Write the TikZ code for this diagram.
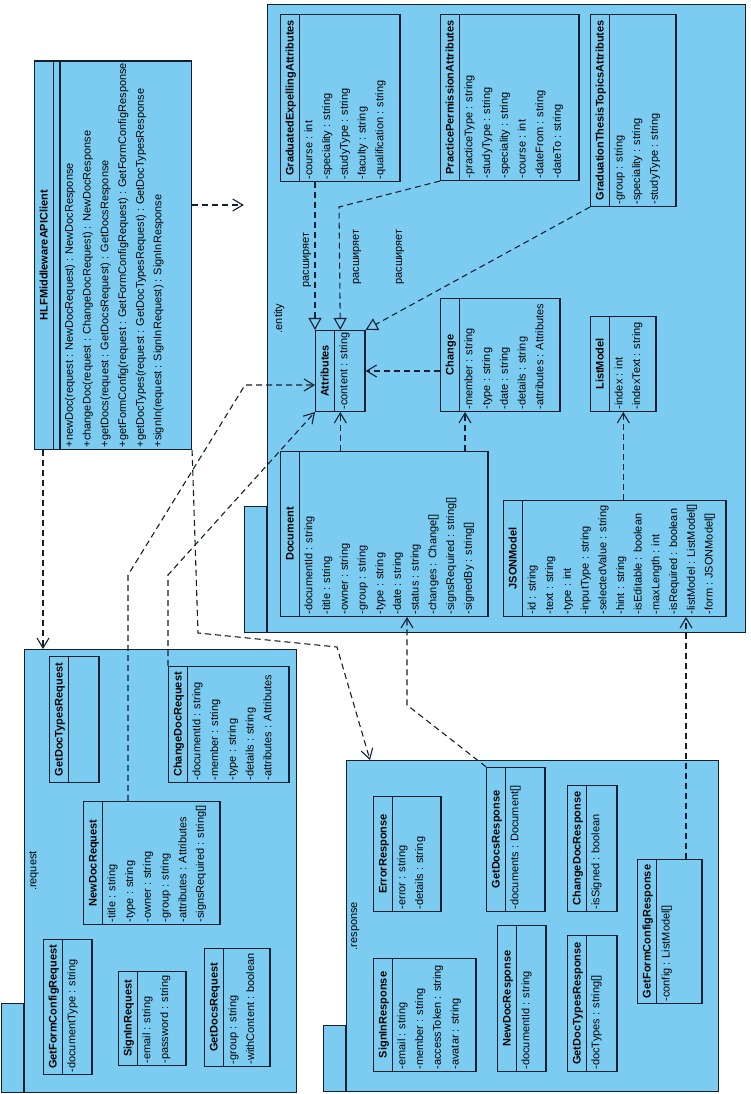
\documentclass[tikz,border=0pt]{standalone}
\usepackage{fontspec}
\setmainfont{Liberation Sans}
\usepackage{tikz}
\usetikzlibrary{positioning, shapes.multipart, arrows.meta}

\definecolor{boxblue}{RGB}{124,204,242}
\definecolor{umlline}{RGB}{20,32,48}

% attribute compartment of a fixed size: #1 is the whole class height
\newcommand{\umlattrs}[2]{\vbox to \dimexpr#1pt-17.7pt\relax{\hbox{\begin{tabular}{@{}l@{}}#2\end{tabular}}\vfil}}

\begin{document}
\begin{tikzpicture}[x=1pt, y=-1pt]
        \tikzstyle{package}=[rectangle, draw=umlline, fill=boxblue, line width=1.2pt, inner sep=0, anchor=north west];
        \tikzstyle{pkgtab}=[rectangle, draw=umlline, fill=boxblue, line width=1.2pt, inner sep=0, anchor=south east, minimum width=22];
        \tikzstyle{pkgname}=[rotate=90, font=\fontsize{11}{17.7}\selectfont, inner sep=0];
        \tikzstyle{umlclass}=[rectangle split, rectangle split parts=2, rectangle split part align={center,left},
            rectangle split empty part height=2pt, rectangle split empty part depth=0pt,
            draw=umlline, fill=boxblue, line width=1.2pt, inner xsep=2pt, inner ysep=0pt,
            rotate=90, anchor=north west, font=\fontsize{11}{17.7}\selectfont];
        \tikzstyle{dep}=[draw=umlline, line width=1.1pt, dash pattern=on 6pt off 4pt, -{Straight Barb[length=10pt, width=12pt]}];
        \tikzstyle{extends}=[dep, -{Triangle[open, length=12pt, width=13pt]}];
        \tikzstyle{extlabel}=[rotate=90, font=\fontsize{11}{17.7}\selectfont, inner sep=0];

        \useasboundingbox (0,0) rectangle (750,1094);

        % packages
        \node[package, minimum width=478, minimum height=628] (entity) at (267,4) {};
        \node[pkgtab, minimum height=126] (entity-tab) at (entity.south west) {};
        \node[pkgname, anchor=north] (entity-name) at ([xshift=7pt]entity.west) {.entity};
        \node[package, minimum width=272, minimum height=443] (request) at (24,649) {};
        \node[pkgtab, minimum height=89] (request-tab) at (request.south west) {};
        \node[pkgname, anchor=north] (request-name) at ([xshift=5pt]request.west) {.request};
        \node[package, minimum width=372, minimum height=331] (response) at (346,760) {};
        \node[pkgtab, minimum height=66] (response-tab) at (response.south west) {};
        \node[pkgname, anchor=north] (response-name) at ([xshift=5pt]response.west) {.response};

        % client
        \node[umlclass, rectangle split parts=3, rectangle split part align={center,left,left},
            minimum width=387] (HLF) at (34,450) {\strut\textbf{HLFMiddlewareAPIClient}\nodepart{two}\nodepart{three}\umlattrs{148}{
            +newDoc(request : NewDocRequest) : NewDocResponse \\
            +changeDoc(request : ChangeDocRequest) : NewDocResponse \\
            +getDocs(request : GetDocsRequest) : GetDocsResponse \\
            +getFormConfig(request : GetFormConfigRequest) : GetFormConfigResponse \\
            +getDocTypes(request : GetDocTypesRequest) : GetDocTypesResponse \\
            +signIn(request : SignInRequest) : SignInResponse}};

        % entity
        \node[umlclass, minimum width=167] (GEA) at (280,182) {\strut\textbf{GraduatedExpellingAttributes}\nodepart{two}\umlattrs{117}{
            -course : int \\
            -speciality : string \\
            -studyType : string \\
            -faculty : string \\
            -qualification : string}};
        \node[umlclass, minimum width=166] (PPA) at (440,181) {\strut\textbf{PracticePermissionAttributes}\nodepart{two}\umlattrs{136}{
            -practiceType : string \\
            -studyType : string \\
            -speciality : string \\
            -course : int \\
            -dateFrom : string \\
            -dateTo : string}};
        \node[umlclass, minimum width=192] (GTTA) at (590,207) {\strut\textbf{GraduationThesisTopicsAttributes}\nodepart{two}\umlattrs{83}{
            -group : string \\
            -speciality : string \\
            -studyType : string}};
        \node[umlclass, minimum width=80] (Attributes) at (315,412) {\strut\textbf{Attributes}\nodepart{two}\umlattrs{47}{
            -content : string}};
        \node[umlclass, minimum width=113] (Change) at (440,412) {\strut\textbf{Change}\nodepart{two}\umlattrs{117}{
            -member : string \\
            -type : string \\
            -date : string \\
            -details : string \\
            -attributes : Attributes}};
        \node[umlclass, minimum width=95] (ListModel) at (590,412) {\strut\textbf{ListModel}\nodepart{two}\umlattrs{63}{
            -index : int \\
            -indexText : string}};
        \node[umlclass, minimum width=165] (Document) at (280,617) {\strut\textbf{Document}\nodepart{two}\umlattrs{205}{
            -documentId : string \\
            -title : string \\
            -owner : string \\
            -group : string \\
            -type : string \\
            -date : string \\
            -status : string \\
            -changes : Change[] \\
            -signsRequired : string[] \\
            -signedBy : string[]}};
        \node[umlclass, minimum width=116] (JSONModel) at (503,617) {\strut\textbf{JSONModel}\nodepart{two}\umlattrs{220}{
            -id : string \\
            -text : string \\
            -type : int \\
            -inputType : string \\
            -selectedValue : string \\
            -hint : string \\
            -isEditable : boolean \\
            -maxLength : int \\
            -isRequired : boolean \\
            -listModel : ListModel[] \\
            -form : JSONModel[]}};

        % request
        \node[umlclass, minimum width=126] (GetDocTypesRequest) at (49,783) {\strut\textbf{GetDocTypesRequest}\nodepart{two}\umlattrs{47}{}};
        \node[umlclass, minimum width=116] (ChangeDocRequest) at (168,783) {\strut\textbf{ChangeDocRequest}\nodepart{two}\umlattrs{118}{
            -documentId : string \\
            -member : string \\
            -type : string \\
            -details : string \\
            -attributes : Attributes}};
        \node[umlclass, minimum width=123] (NewDocRequest) at (83,925) {\strut\textbf{NewDocRequest}\nodepart{two}\umlattrs{134}{
            -title : string \\
            -type : string \\
            -owner : string \\
            -group : string \\
            -attributes : Attributes \\
            -signsRequired : string[]}};
        \node[umlclass, minimum width=135] (GetFormConfigRequest) at (43,1075) {\strut\textbf{GetFormConfigRequest}\nodepart{two}\umlattrs{46}{
            -documentType : string}};
        \node[umlclass, minimum width=94] (SignInRequest) at (118,1066) {\strut\textbf{SignInRequest}\nodepart{two}\umlattrs{65}{
            -email : string \\
            -password : string}};
        \node[umlclass, minimum width=118] (GetDocsRequest) at (204,1067) {\strut\textbf{GetDocsRequest}\nodepart{two}\umlattrs{63}{
            -group : string \\
            -withContent : boolean}};

        % response
        \node[umlclass, minimum width=115] (ErrorResponse) at (373,912) {\strut\textbf{ErrorResponse}\nodepart{two}\umlattrs{65}{
            -error : string \\
            -details : string}};
        \node[umlclass, minimum width=144] (GetDocsResponse) at (486,912) {\strut\textbf{GetDocsResponse}\nodepart{two}\umlattrs{56}{
            -documents : Document[]}};
        \node[umlclass, minimum width=126] (ChangeDocResponse) at (567,912) {\strut\textbf{ChangeDocResponse}\nodepart{two}\umlattrs{47}{
            -isSigned : boolean}};
        \node[umlclass, minimum width=144] (GetFormConfigResponse) at (637,1004) {\strut\textbf{GetFormConfigResponse}\nodepart{two}\umlattrs{62}{
            -config : ListModel[]}};
        \node[umlclass, minimum width=113] (SignInResponse) at (373,1072) {\strut\textbf{SignInResponse}\nodepart{two}\umlattrs{100}{
            -email : string \\
            -member : string \\
            -accessToken : string \\
            -avatar : string}};
        \node[umlclass, minimum width=146] (NewDocResponse) at (497,1072) {\strut\textbf{NewDocResponse}\nodepart{two}\umlattrs{46}{
            -documentId : string}};
        \node[umlclass, minimum width=136] (GetDocTypesResponse) at (567,1072) {\strut\textbf{GetDocTypesResponse}\nodepart{two}\umlattrs{47}{
            -docTypes : string[]}};

        % labels of the generalisations
        \node[extlabel] (ext-GEA) at (307,260) {расширяет};
        \node[extlabel] (ext-PPA) at (357,257) {расширяет};
        \node[extlabel] (ext-GTTA) at (400,257) {расширяет};

        % dependencies
        \draw[dep] (HLF.south |- 0,205) -- (entity-tab.west |- 0,205);
        \draw[dep] (43,0 |- HLF.west) -- (43,0 |- request.north);
        \draw[dep] (HLF.south west) -- (198,633) -- (337,647) -- (370,0 |- response.north);
        \draw[dep] (128,0 |- NewDocRequest.east) -- (128,575) -- (245,385) -- (Attributes.north |- 0,385);
        \draw[dep] (ChangeDocRequest.north east) -- (168,575) -- (Attributes.north west);
        \draw[dep] (Change.north |- Attributes.south) -- (Attributes.south);
        \draw[dep] (Attributes.west |- Document.east) -- (Attributes.west);
        \draw[dep] (465,0 |- Document.east) -- (465,0 |- Change.west);
        \draw[dep] (ListModel.west |- JSONModel.east) -- (ListModel.west);
        \draw[dep] (GetDocsResponse.north east) -- (407,705) -- (407,0 |- Document.west);
        \draw[dep] (686,0 |- GetFormConfigResponse.east) -- (686,0 |- JSONModel.west);

        % generalisations
        \draw[extends] (Attributes.north east |- GEA.west) -- (Attributes.north east);
        \draw[extends] (PPA.north west) -- (339,207) -- (Attributes.east);
        \draw[extends] (GTTA.north west) -- (Attributes.south east);
\end{tikzpicture}
\end{document}
